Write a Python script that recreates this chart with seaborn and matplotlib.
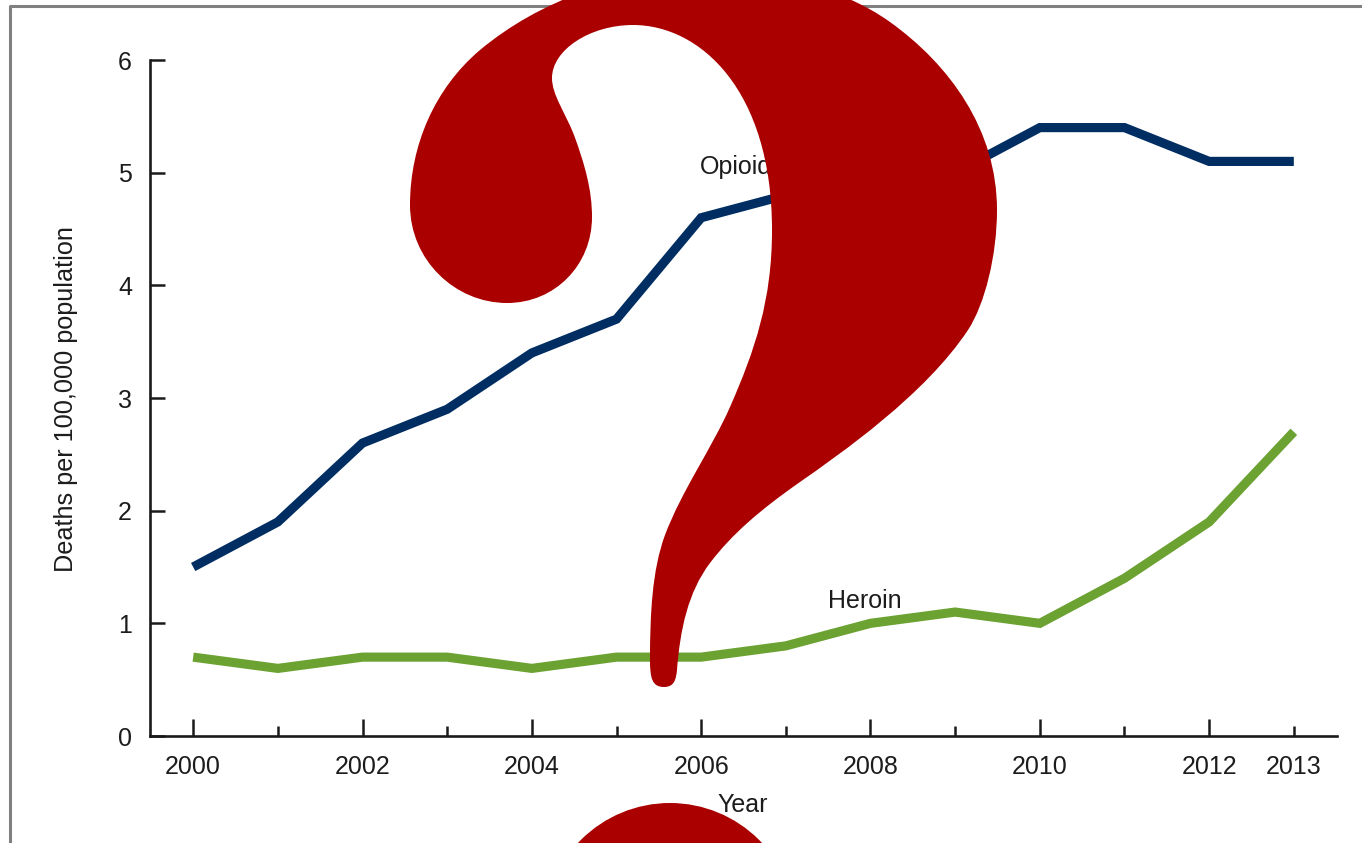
import pandas as pd
import matplotlib
matplotlib.use('Agg')
import matplotlib.pyplot as plt
import seaborn as sns
from matplotlib.lines import Line2D
from matplotlib.patches import Ellipse, PathPatch
from matplotlib.path import Path

# values
years = list(range(2000, 2014))
opioid = [1.5, 1.9, 2.6, 2.9, 3.4, 3.7, 4.6, 4.8, 4.9, 5.0, 5.4, 5.4, 5.1, 5.1]
heroin = [0.7, 0.6, 0.7, 0.7, 0.6, 0.7, 0.7, 0.8, 1.0, 1.1, 1.0, 1.4, 1.9, 2.7]
major_years = [2000, 2002, 2004, 2006, 2008, 2010, 2012]
minor_years = [2001, 2003, 2005, 2007, 2009, 2011, 2013]
minor_labels = ['', '', '', '', '', '', '2013']
y_ticks = [0, 1, 2, 3, 4, 5, 6]

W, H = 1362, 843

sns.set_theme(style='white')
plt.rcParams['font.family'] = ['Liberation Sans', 'DejaVu Sans']

df = pd.DataFrame({'Year': years, 'Opioid': opioid, 'Heroin': heroin})
long_df = df.melt(id_vars='Year', var_name='Drug', value_name='Rate')

fig = plt.figure(figsize=(W / 100, H / 100), dpi=100)
ax = fig.add_axes([150 / W, 1 - 736 / H, (1337 - 150) / W, (736 - 60) / H])

sns.lineplot(data=long_df, x='Year', y='Rate', hue='Drug',
             palette={'Opioid': '#002D62', 'Heroin': '#6BA232'},
             linewidth=6.6, legend=False, ax=ax,
             solid_capstyle='butt', solid_joinstyle='miter')

ax.set_xlim(1999.49, 2013.51)
ax.set_ylim(0, 6)
sns.despine(ax=ax)
for side in ['left', 'bottom']:
    ax.spines[side].set_linewidth(1.9)
    ax.spines[side].set_color('#1a1a1a')

ax.set_xticks(major_years)
ax.set_xticks(minor_years, minor_labels, minor=True)
ax.set_yticks(y_ticks)
ax.tick_params(axis='x', which='major', direction='in', length=12, width=1.8,
               color='#1a1a1a', labelsize=18, labelcolor='#1c1c1c', pad=14, bottom=True)
ax.tick_params(axis='x', which='minor', direction='in', length=7.5, width=1.8,
               color='#1a1a1a', labelsize=18, labelcolor='#1c1c1c', pad=14, bottom=True)
ax.tick_params(axis='y', direction='in', length=11, width=1.8,
               color='#1a1a1a', labelsize=18, labelcolor='#1c1c1c', pad=13, left=True)

ax.set_xlabel('')
ax.set_ylabel('')
fig.text(66 / W, 1 - 399 / H, 'Deaths per 100,000 population', rotation=90,
         fontsize=18.2, color='#1c1c1c', ha='center', va='center')

ax.text(2005.98, 5.05, 'Opioid', fontsize=18, color='#1c1c1c', va='center', ha='left')
ax.text(2007.5, 1.2, 'Heroin', fontsize=18, color='#1c1c1c', va='center', ha='left')

# grey frame of the original picture
fig.add_artist(Line2D([10 / W, 10 / W, 1], [0, 1 - 6 / H, 1 - 6 / H],
                      color='#808080', linewidth=2.2))


def px(x, y):
    return (x / W, 1 - y / H)


# the big question mark on top of the chart
outline = [
    (650, 660),
    (650, 678), (652, 687), (664, 687),
    (674, 687), (676, 680), (677, 670),
    (680, 630), (688, 592), (710, 563),
    (732, 534), (760, 510), (800, 482),
    (840, 454), (925, 395), (968, 330),
    (985, 304), (997, 255), (997, 210),
    (997, 130), (950, 65), (890, 22),
    (840, -14), (770, -28), (700, -28),
    (620, -28), (540, 0), (480, 50),
    (435, 88), (410, 145), (410, 205),
    (410, 260), (455, 303), (507, 303),
    (555, 303), (592, 265), (592, 217),
    (592, 190), (585, 165), (574, 135),
    (565, 112), (552, 95), (552, 78),
    (552, 50), (590, 25), (633, 25),
    (700, 25), (772, 90), (772, 230),
    (772, 300), (755, 350), (730, 407),
    (712, 448), (682, 490), (665, 535),
    (652, 570), (650, 615), (650, 660),
]
codes = [Path.MOVETO] + [Path.CURVE4] * (len(outline) - 1)
mark = PathPatch(Path([px(*p) for p in outline], codes), transform=fig.transFigure,
                 facecolor='#AA0000', edgecolor='none', zorder=5)
fig.add_artist(mark)
dot = Ellipse(px(670, 929), 252 / W, 252 / H, transform=fig.transFigure,
              facecolor='#AA0000', edgecolor='none', zorder=5)
fig.add_artist(dot)

fig.text(743 / W, 1 - 805 / H, 'Year', fontsize=18, color='#1c1c1c',
         ha='center', va='center', zorder=6)

fig.savefig('out.png', dpi=100)
